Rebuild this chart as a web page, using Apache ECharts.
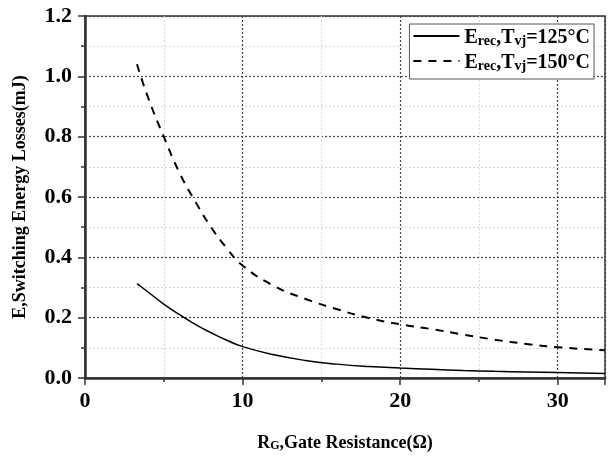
<!DOCTYPE html>
<html>
<head>
<meta charset="utf-8">
<script src="https://cdn.jsdelivr.net/npm/echarts@6/dist/echarts.min.js"></script>
<style>
  html, body { margin: 0; padding: 0; background: #fff; }
  #chart { width: 608px; height: 457px; }
</style>
</head>
<body>
<div id="chart"></div>
<script>
// Gate resistance (ohm) sample points
const rg = [3.3, 4, 5, 6, 7, 8, 9, 10, 12, 14, 16, 18, 20, 22, 24, 26, 28, 30, 33];
// Erec at Tvj = 125 °C (mJ)
const erec125 = [0.313, 0.285, 0.245, 0.210, 0.178, 0.150, 0.125, 0.104, 0.077, 0.058, 0.046, 0.038, 0.033, 0.029, 0.025, 0.022, 0.020, 0.018, 0.015];
// Erec at Tvj = 150 °C (mJ)
const erec150 = [1.040, 0.930, 0.800, 0.680, 0.585, 0.500, 0.430, 0.373, 0.305, 0.262, 0.228, 0.199, 0.178, 0.162, 0.144, 0.127, 0.113, 0.102, 0.092];
const xTicks = [0, 10, 20, 30];
const yTicks = [0.0, 0.2, 0.4, 0.6, 0.8, 1.0, 1.2];
const seriesNames = ['t125', 't150'];
const seriesTemps = ['125', '150'];

const FONT = '"Liberation Serif", "Times New Roman", serif';
const pair = (xs, ys) => xs.map((x, i) => [x, ys[i]]);

// base text + lowered subscript tokens
function subscriptRich(size, subSize) {
  return {
    b: { fontFamily: FONT, fontWeight: 'bold', fontSize: size, color: '#000', lineHeight: size + 4, verticalAlign: 'bottom' },
    s: { fontFamily: FONT, fontWeight: 'bold', fontSize: subSize, color: '#000', lineHeight: subSize - 6, verticalAlign: 'bottom' }
  };
}

const chart = echarts.init(document.getElementById('chart'), null, { renderer: 'canvas' });
chart.setOption({
  backgroundColor: '#fff',
  animation: false,
  grid: {
    left: 85, right: 3, top: 16, bottom: 77,
    show: true, borderColor: '#333', borderWidth: 1.5, backgroundColor: 'transparent'
  },
  legend: {
    right: 14, top: 24,
    orient: 'vertical',
    padding: [4, 4, 6, 3],
    itemGap: 5,
    itemWidth: 46, itemHeight: 14,
    borderColor: '#555', borderWidth: 1,
    backgroundColor: '#fff',
    itemStyle: { color: 'transparent', borderWidth: 0, opacity: 0 },
    data: seriesNames,
    formatter: function (name) {
      const t = seriesTemps[seriesNames.indexOf(name)];
      return '{b|E}{s|rec}{b|,T}{s|vj}{b|=' + t + '°C}';
    },
    textStyle: { rich: subscriptRich(20, 14) }
  },
  xAxis: {
    type: 'value', min: 0, max: 33, interval: 10,
    name: '{b|R}{s|G}{b|,Gate Resistance(Ω)}',
    nameLocation: 'middle', nameGap: 52,
    nameTextStyle: { rich: subscriptRich(18, 12) },
    axisLine: { show: true, lineStyle: { color: '#333', width: 2.5 } },
    axisTick: { show: true, inside: false, length: 7, lineStyle: { color: '#333', width: 1.5 } },
    minorTick: { show: true, splitNumber: 2, length: 4, lineStyle: { color: '#333', width: 1.5 } },
    axisLabel: {
      margin: 12, fontFamily: FONT, fontWeight: 'bold', fontSize: 22, color: '#000',
      formatter: v => (xTicks.indexOf(v) >= 0 ? String(v) : '')
    },
    splitLine: { show: true, lineStyle: { color: '#444', width: 1.2, type: [2, 2] } },
    minorSplitLine: { show: true, lineStyle: { color: '#d8d8d8', width: 1, type: [2, 2] } }
  },
  yAxis: {
    type: 'value', min: 0, max: 1.2, interval: 0.2,
    name: 'E,Switching Energy Losses(mJ)',
    nameLocation: 'middle', nameGap: 56,
    nameTextStyle: { fontFamily: FONT, fontWeight: 'bold', fontSize: 18, color: '#000' },
    axisLine: { show: true, lineStyle: { color: '#333', width: 2.5 } },
    axisTick: { show: true, inside: false, length: 7, lineStyle: { color: '#333', width: 1.5 } },
    minorTick: { show: true, splitNumber: 2, length: 4, lineStyle: { color: '#333', width: 1.5 } },
    axisLabel: {
      margin: 13, fontFamily: FONT, fontWeight: 'bold', fontSize: 22, color: '#000',
      formatter: v => {
        const hit = yTicks.find(t => Math.abs(t - v) < 1e-6);
        return hit === undefined ? '' : hit.toFixed(1);
      }
    },
    splitLine: { show: true, lineStyle: { color: '#444', width: 1.2, type: [2, 2] } },
    minorSplitLine: { show: true, lineStyle: { color: '#d8d8d8', width: 1, type: [2, 2] } }
  },
  series: [
    {
      name: seriesNames[0], type: 'line', smooth: true, showSymbol: false, symbol: 'none',
      data: pair(rg, erec125),
      lineStyle: { color: '#000', width: 1.5, type: 'solid' },
      itemStyle: { color: '#000' }
    },
    {
      name: seriesNames[1], type: 'line', smooth: true, showSymbol: false, symbol: 'none',
      data: pair(rg, erec150),
      lineStyle: { color: '#000', width: 2, type: [8, 7] },
      itemStyle: { color: '#000' }
    }
  ]
});
</script>
</body>
</html>
